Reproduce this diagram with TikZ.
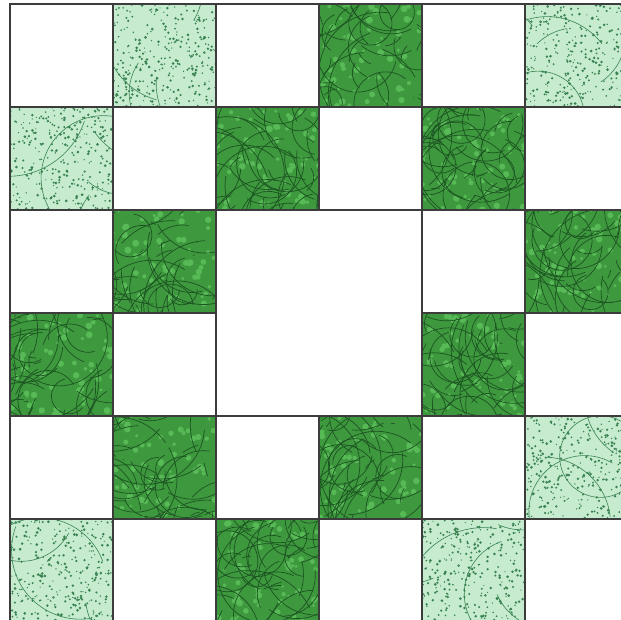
\documentclass[tikz,border=0pt]{standalone}
\definecolor{gridline}{HTML}{3C3C3C}
\definecolor{darkleaf}{HTML}{3E983E}
\definecolor{darkvein}{HTML}{1C5422}
\definecolor{darkspot}{HTML}{58BA56}
\definecolor{lightleaf}{HTML}{C6EBCF}
\definecolor{lightdot}{HTML}{3A8452}
\tikzset{
  gridcell/.style={draw=gridline, line width=2pt},
  veinline/.style={draw=darkvein, line width=0.7pt},
}
\begin{document}
\begin{tikzpicture}[x=1pt,y=-1pt]
\useasboundingbox (0,0) rectangle (621,619);
\fill[white] (0,0) rectangle (621,619);
\pgfmathsetseed{7}
\begin{scope}
\clip (0,0) rectangle (621,619);
% light patterned cells
\foreach \r/\c in {0/1,0/5,1/0,4/5,5/0,5/4} {
  \begin{scope}
    \clip ({10+\c*103},{4+\r*103}) rectangle ++(103,103);
    \fill[lightleaf] ({10+\c*103},{4+\r*103}) rectangle ++(103,103);
    \foreach \i in {1,...,300} {
      \fill[lightdot] ({10+\c*103+103*rnd},{4+\r*103+103*rnd}) circle[radius={0.6pt+0.9pt*rnd}];
    }
    \foreach \i in {1,...,5} {
      \draw[lightdot, line width=0.6pt] ({10+\c*103+103*rnd},{4+\r*103+103*rnd}) arc[start angle={360*rnd}, delta angle=60, radius={40pt+40pt*rnd}];
    }
  \end{scope}
}
% dark patterned cells
\foreach \r/\c in {0/3,1/2,1/4,2/1,2/5,3/0,3/4,4/1,4/3,5/2} {
  \begin{scope}
    \clip ({10+\c*103},{4+\r*103}) rectangle ++(103,103);
    \fill[darkleaf] ({10+\c*103},{4+\r*103}) rectangle ++(103,103);
    \foreach \i in {1,...,60} {
      \fill[darkspot] ({10+\c*103+103*rnd},{4+\r*103+103*rnd}) circle[radius={1.5pt+2pt*rnd}];
    }
    \foreach \i in {1,...,45} {
      \draw[veinline] ({10+\c*103+103*rnd},{4+\r*103+103*rnd}) arc[start angle={360*rnd}, delta angle={40+60*rnd}, radius={15pt+50pt*rnd}];
    }
  \end{scope}
}
% grid lines
\foreach \r in {0,...,5} {
  \foreach \c in {0,...,5} {
    \pgfmathtruncatemacro{\inner}{(\r==2 || \r==3) && (\c==2 || \c==3) ? 1 : 0}
    \ifnum\inner=0
      \draw[gridcell] ({10+\c*103},{4+\r*103}) rectangle ++(103,103);
    \fi
  }
}
\draw[gridcell] (216,210) rectangle (422,416);
\end{scope}
\end{tikzpicture}
\end{document}
